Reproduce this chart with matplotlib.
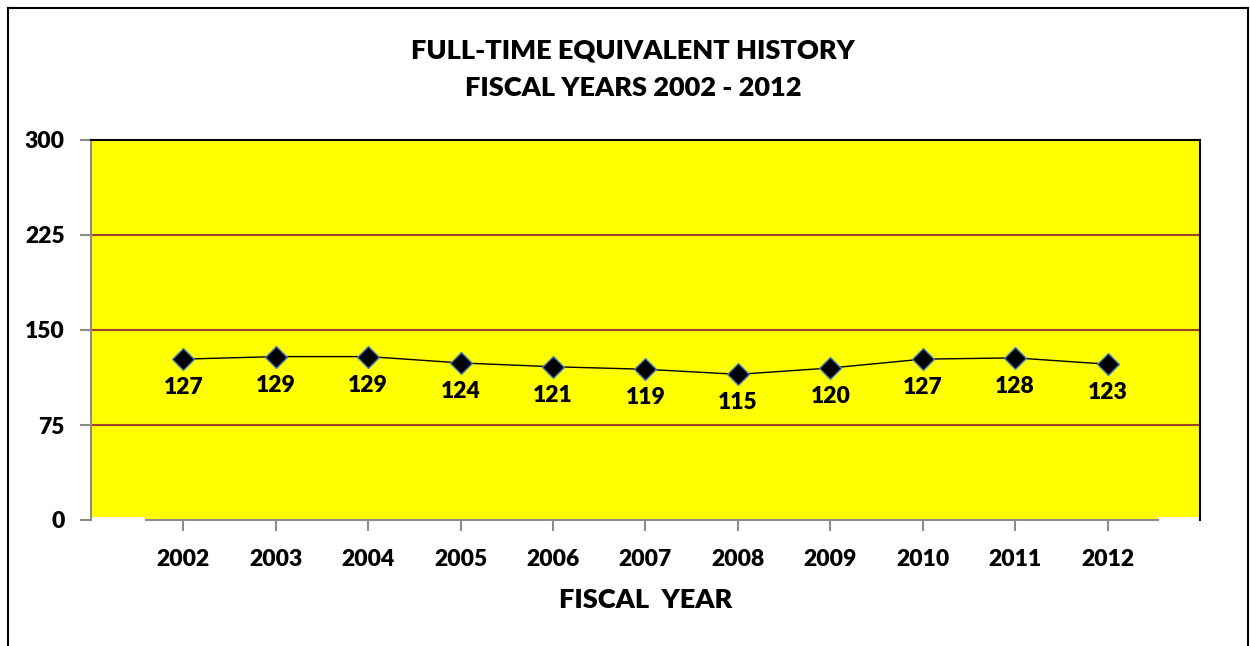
import matplotlib
matplotlib.use("Agg")
import matplotlib.pyplot as plt
from matplotlib.patches import Rectangle
from matplotlib.lines import Line2D

years = [2002, 2003, 2004, 2005, 2006, 2007, 2008, 2009, 2010, 2011, 2012]
fte = [127, 129, 129, 124, 121, 119, 115, 120, 127, 128, 123]
yticks = [0, 75, 150, 225, 300]
title_lines = ["FULL-TIME EQUIVALENT HISTORY", "FISCAL YEARS 2002 - 2012"]
xlabel = "FISCAL  YEAR"

plt.rcParams['font.family'] = ['Lato', 'DejaVu Sans']
WT = 'heavy'

W, H = 1250, 646
fig = plt.figure(figsize=(W / 100, H / 100), dpi=100)

# outer frame
fig.add_artist(Line2D([8 / W, 8 / W], [0, 1 - 8 / H], color='black', lw=1.5, transform=fig.transFigure))
fig.add_artist(Line2D([8 / W, 1248 / W], [1 - 8 / H, 1 - 8 / H], color='black', lw=1.5, transform=fig.transFigure))
fig.add_artist(Line2D([1248 / W, 1248 / W], [0, 1 - 8 / H], color='black', lw=1.5, transform=fig.transFigure))

x0, x1 = 91, 1200
y_top, y_bot = 140, 520
ax = fig.add_axes([x0 / W, 1 - y_bot / H, (x1 - x0) / W, (y_bot - y_top) / H])
ax.set_facecolor('#FFFF00')
ax.set_xlim(2001, 2013)
ax.set_ylim(0, 300)

for v in yticks[1:-1]:
    ax.axhline(v, color='#A0432A', lw=1.5, zorder=1)

ax.plot(years, fte, color='black', lw=1.0, zorder=3,
        marker='D', markersize=11, markerfacecolor='black',
        markeredgecolor='#4F81BD', markeredgewidth=1.0)

for x, y in zip(years, fte):
    ax.annotate(str(y), (x, y), xytext=(0, -20.5), textcoords='offset points',
                ha='center', va='center', fontsize=16.5, fontweight=WT, zorder=4)

# white patches at the bottom corners
ax.add_patch(Rectangle((2001, 0), 0.58, 2.5, facecolor='white', edgecolor='none', zorder=2, clip_on=False))
ax.add_patch(Rectangle((2012.55, 0), 0.45, 2.5, facecolor='white', edgecolor='none', zorder=2, clip_on=False))

for s in ['top', 'right']:
    ax.spines[s].set_color('black')
    ax.spines[s].set_linewidth(1.5)
ax.spines['left'].set_color('#8C8C8C')
ax.spines['left'].set_linewidth(1.5)
ax.spines['bottom'].set_visible(False)
ax.add_line(Line2D([2001.6, 2012.55], [0, 0], color='#8C8C8C', lw=1.5, clip_on=False, zorder=5))

ax.set_yticks(yticks)
ax.set_yticklabels([str(v) for v in yticks], fontsize=16.5, fontweight=WT)
ax.set_xticks(years)
ax.set_xticklabels([str(y) for y in years], fontsize=16.5, fontweight=WT)
ax.tick_params(axis='y', length=8, width=1.5, color='#8C8C8C', pad=11)
ax.tick_params(axis='x', length=8, width=1.5, color='#8C8C8C', pad=13)

ax.set_xlabel(xlabel, fontsize=19.5, fontweight=WT, labelpad=13)

fig.text(633 / W, 1 - 50 / H, title_lines[0], ha='center', va='center', fontsize=19.5, fontweight=WT)
fig.text(633 / W, 1 - 88 / H, title_lines[1], ha='center', va='center', fontsize=19.5, fontweight=WT)

fig.savefig('out.png', dpi=100)
